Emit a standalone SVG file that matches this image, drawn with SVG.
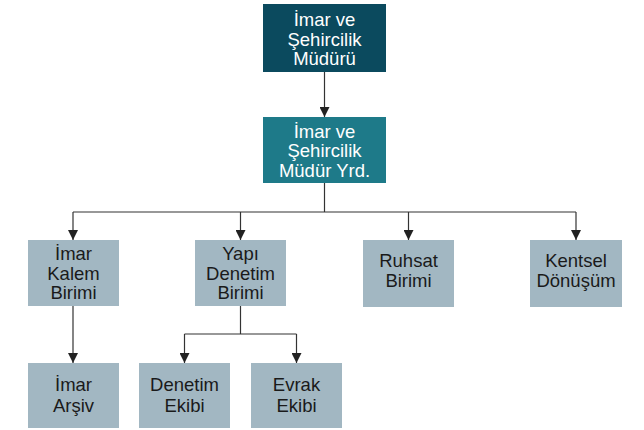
<svg xmlns="http://www.w3.org/2000/svg" width="644" height="430" viewBox="0 0 644 430">
<defs>
<marker id="ah" viewBox="0 0 10 10" refX="10" refY="5" markerWidth="10" markerHeight="10" markerUnits="userSpaceOnUse" orient="auto">
<path d="M0,0 L10,5 L0,10 z" fill="#222"/>
</marker>
<style>
.dark{fill:#0b4a5e}
.mid{fill:#1e7a89}
.light{fill:#a2b7c2}
text{font-family:"Liberation Sans",Arial,sans-serif;font-size:18.5px;text-anchor:middle}
.w{fill:#ffffff}
.b{fill:#1a1a1a}
.c{fill:none;stroke:#333;stroke-width:1.2}
</style>
</defs>
<rect width="644" height="430" fill="#ffffff"/>
<g id="connectors">
<path class="c" d="M324.5,72 V117" marker-end="url(#ah)"/>
<path class="c" d="M324.5,183 V212"/>
<path class="c" d="M73,212 H576"/>
<path class="c" d="M73,212 V240" marker-end="url(#ah)"/>
<path class="c" d="M240.5,212 V240" marker-end="url(#ah)"/>
<path class="c" d="M408.5,212 V240" marker-end="url(#ah)"/>
<path class="c" d="M576,212 V240" marker-end="url(#ah)"/>
<path class="c" d="M73,306 V363" marker-end="url(#ah)"/>
<path class="c" d="M240.5,306 V334"/>
<path class="c" d="M184.5,334 H296.5"/>
<path class="c" d="M184.5,334 V363" marker-end="url(#ah)"/>
<path class="c" d="M296.5,334 V363" marker-end="url(#ah)"/>
</g>
<g id="n1">
<rect class="dark" x="263" y="4" width="123" height="68"/>
<text class="w" x="324.5" y="26">İmar ve</text>
<text class="w" x="324.5" y="45.5">Şehircilik</text>
<text class="w" x="324.5" y="64.5">Müdürü</text>
</g>
<g id="n2">
<rect class="mid" x="263" y="117" width="123" height="66"/>
<text class="w" x="324.5" y="137.5">İmar ve</text>
<text class="w" x="324.5" y="157">Şehircilik</text>
<text class="w" x="324.5" y="176.5">Müdür Yrd.</text>
</g>
<g id="n3">
<rect class="light" x="28" y="240" width="91" height="66"/>
<text class="b" x="73.5" y="260">İmar</text>
<text class="b" x="73.5" y="279.5">Kalem</text>
<text class="b" x="73.5" y="299">Birimi</text>
</g>
<g id="n4">
<rect class="light" x="195" y="240" width="91" height="66"/>
<text class="b" x="240.5" y="260">Yapı</text>
<text class="b" x="240.5" y="279.5">Denetim</text>
<text class="b" x="240.5" y="299">Birimi</text>
</g>
<g id="n5">
<rect class="light" x="363" y="240" width="91" height="67"/>
<text class="b" x="408.5" y="267">Ruhsat</text>
<text class="b" x="408.5" y="287">Birimi</text>
</g>
<g id="n6">
<rect class="light" x="530" y="240" width="92" height="67"/>
<text class="b" x="576" y="267">Kentsel</text>
<text class="b" x="576" y="287">Dönüşüm</text>
</g>
<g id="n7">
<rect class="light" x="28" y="363" width="91" height="65"/>
<text class="b" x="73.5" y="391">İmar</text>
<text class="b" x="73.5" y="412">Arşiv</text>
</g>
<g id="n8">
<rect class="light" x="139" y="363" width="91" height="65"/>
<text class="b" x="184.5" y="391">Denetim</text>
<text class="b" x="184.5" y="412">Ekibi</text>
</g>
<g id="n9">
<rect class="light" x="251" y="363" width="91" height="65"/>
<text class="b" x="296.5" y="391">Evrak</text>
<text class="b" x="296.5" y="412">Ekibi</text>
</g>
</svg>
